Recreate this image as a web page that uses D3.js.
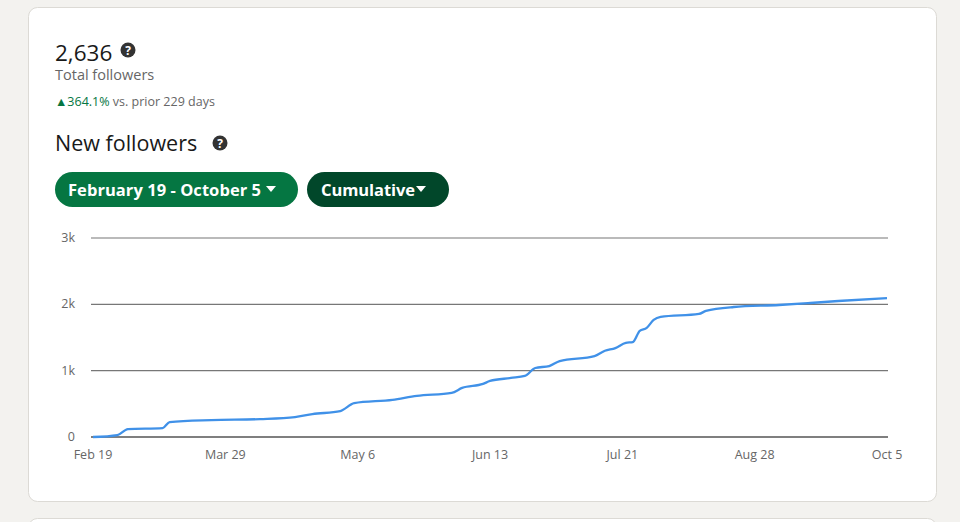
<!DOCTYPE html>
<html><head><meta charset="utf-8">
<script src="https://cdn.jsdelivr.net/npm/d3@7"></script>
<style>
body{margin:0;background:#f3f2ef;font-family:"Segoe UI","Open Sans",sans-serif;}
svg{display:block}
</style></head><body>
<svg id="c" width="960" height="522"></svg>
<script>
const startDate = new Date(2023,1,19);
const dayOffsets = [0,7,10,20,22,34,48,58,63,71,75,86,93,103,106,112,114,120,124,127,131,134,144,147,150,153,155,157,159,161,163,174,176,184,197,206,214,228];
const followers = [0,30,120,135,225,255,270,300,345,390,510,560,620,665,740,800,845,890,920,1040,1070,1145,1220,1300,1340,1420,1430,1600,1645,1765,1810,1855,1900,1960,1990,2020,2050,2095];
const yTicks = [0,1000,2000,3000];
const yTickLabels = ["0","1k","2k","3k"];
const xTickLabels = ["Feb 19","Mar 29","May 6","Jun 13","Jul 21","Aug 28","Oct 5"];

const svg = d3.select("#c");
svg.append("rect").attr("x",28.5).attr("y",7.5).attr("width",908).attr("height",494).attr("rx",9)
  .attr("fill","#fff").attr("stroke","#dcdad5");
svg.append("rect").attr("x",28.5).attr("y",518.5).attr("width",908).attr("height",20).attr("rx",9)
  .attr("fill","#fff").attr("stroke","#dcdad5");

svg.append("text").attr("x",55).attr("y",61).attr("font-size",22.5).attr("fill","#191919").text("2,636");
function help(x,y){
  svg.append("circle").attr("cx",x).attr("cy",y).attr("r",7.5).attr("fill","#333");
  svg.append("text").attr("x",x).attr("y",y+4.5).attr("text-anchor","middle").attr("font-size",12).attr("font-weight","bold").attr("fill","#fff").text("?");
}
help(128,50);
svg.append("text").attr("x",55).attr("y",80).attr("font-size",14.5).attr("fill","#666").text("Total followers");
const t = svg.append("text").attr("x",55).attr("y",106).attr("font-size",12.5);
t.append("tspan").attr("fill","#057642").text("▲364.1%");
t.append("tspan").attr("fill","#666").text(" vs. prior 229 days");
svg.append("text").attr("x",55).attr("y",151).attr("font-size",21.5).attr("fill","#191919").text("New followers");
help(220,143);

function tri(x,y){ svg.append("path").attr("d",`M${x},${y} l10,0 l-5,6 z`).attr("fill","#fff"); }
svg.append("rect").attr("x",55).attr("y",172).attr("width",243).attr("height",35).attr("rx",17.5).attr("fill","#057642");
svg.append("text").attr("x",68).attr("y",195.5).attr("font-size",16.5).attr("font-weight","bold").attr("fill","#fff").attr("textLength",193).text("February 19 - October 5");
tri(266,186);
svg.append("rect").attr("x",307).attr("y",172).attr("width",142).attr("height",35).attr("rx",17.5).attr("fill","#01472a");
svg.append("text").attr("x",321).attr("y",195.5).attr("font-size",16.5).attr("font-weight","bold").attr("fill","#fff").attr("textLength",94).text("Cumulative");
tri(416,186);

const x = d3.scaleTime().domain([startDate, d3.timeDay.offset(startDate,228)]).range([93,887]);
const y = d3.scaleLinear().domain([0,3000]).range([437,238]);

yTicks.forEach((v,i)=>{
  svg.append("line").attr("x1",91).attr("x2",888).attr("y1",y(v)).attr("y2",y(v))
    .attr("stroke", i===0?"#555":"#777").attr("stroke-width",i===0?1.5:1.2);
  svg.append("text").attr("x",75).attr("y",y(v)+4).attr("text-anchor","end").attr("font-size",12.5).attr("fill","#666").text(yTickLabels[i]);
});
xTickLabels.forEach((l,i)=>{
  svg.append("text").attr("x",x(d3.timeDay.offset(startDate,i*38))).attr("y",459).attr("text-anchor","middle")
    .attr("font-size",12.5).attr("fill","#666").text(l);
});
const data = dayOffsets.map((d,i)=>({date:d3.timeDay.offset(startDate,d),v:followers[i]}));
svg.append("path").datum(data).attr("fill","none").attr("stroke","#4091e8").attr("stroke-width",2.3)
  .attr("d", d3.line().x(d=>x(d.date)).y(d=>y(d.v)).curve(d3.curveMonotoneX));
</script></body></html>
